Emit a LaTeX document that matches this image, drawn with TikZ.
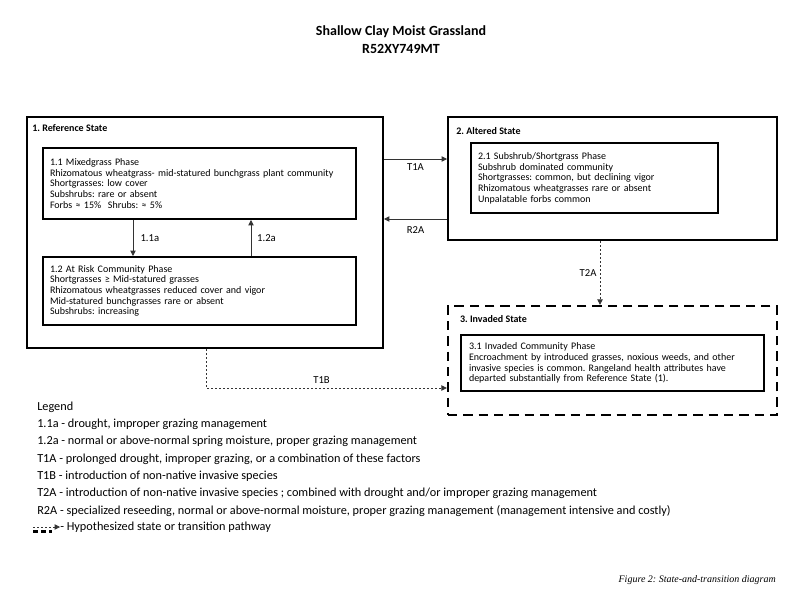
\documentclass[tikz,border=0pt]{standalone}
\usepackage{fontspec}
\setmainfont{Carlito}
\newfontfamily\captionfont{Liberation Serif}
\usetikzlibrary{arrows.meta, fit}

\begin{document}
\frenchspacing
\begin{tikzpicture} [
  x = 0.75pt,
  y = -0.75pt,
  statebox/.style = {draw, line width = 1.5pt, inner sep = 0pt},
  hypobox/.style = {statebox, line width = 1.8pt, dash pattern = on 7pt off 4.5pt},
  phasebox/.style = {draw, line width = 1.5pt, align = left, inner xsep = 5.25pt, inner ysep = 0pt,
    font = \fontsize{7.5}{8}\selectfont},
  statetitle/.style = {anchor = west, inner sep = 0pt, font = \fontsize{7.5}{8}\selectfont\bfseries},
  translabel/.style = {font = \fontsize{8}{9}\selectfont},
  trans/.style = {draw = black!80, line width = 0.6pt, -{Triangle[length = 4pt, width = 4pt]}},
  hypo/.style = {trans, dash pattern = on 1.5pt off 1.5pt},
]
\useasboundingbox (0, 0) rectangle (800, 600);

\node [align = center, font = \fontsize{10.5}{14}\selectfont\bfseries] (title) at (401, 39.5)
  {Shallow Clay Moist Grassland\\R52XY749MT};

% states
\node [statebox, fit = {(27, 117) (383, 348)}] (ref) {};
\node [statebox, fit = {(448, 117) (777, 240)}] (alt) {};
\node [hypobox, fit = {(448, 306) (777, 415)}] (inv) {};
\node [statetitle] (reft) at ([shift = {(6, 12)}]ref.north west) {1. Reference State};
\node [statetitle] (altt) at ([shift = {(9, 15)}]alt.north west) {2. Altered State};
\node [statetitle] (invt) at ([shift = {(13, 14)}]inv.north west) {3. Invaded State};

% phases
\node [phasebox, text width = 224.25pt, minimum height = 53.25pt] (p11) at (199.5, 183.5)
  {1.1 Mixedgrass Phase\\
   Rhizomatous wheatgrass- mid-statured bunchgrass plant community\\
   Shortgrasses: low cover\\
   Subshrubs: rare or absent\\
   Forbs ≈ 15\%\ \ Shrubs: ≈ 5\%};
\node [phasebox, text width = 224.25pt, minimum height = 51pt] (p12) at (199.5, 291)
  {1.2 At Risk Community Phase\\
   Shortgrasses ≥ Mid-statured grasses\\
   Rhizomatous wheatgrasses reduced cover and vigor\\
   Mid-statured bunchgrasses rare or absent\\
   Subshrubs: increasing};
\node [phasebox, text width = 174.75pt, minimum height = 52.5pt] (p21) at (594.5, 178)
  {2.1 Subshrub/Shortgrass Phase\\
   Subshrub dominated community\\
   Shortgrasses: common, but declining vigor\\
   Rhizomatous wheatgrasses rare or absent\\
   Unpalatable forbs common};
\node [phasebox, text width = 215.25pt, inner xsep = 6pt, minimum height = 42pt] (p31) at (612.5, 363)
  {3.1 Invaded Community Phase\\
   Encroachment by introduced grasses, noxious weeds, and other\\
   invasive species is common. Rangeland health attributes have\\
   departed substantially from Reference State (1).};

% transitions
\draw [trans] (p11.south -| 133, 0) -- (p12.north -| 133, 0)
  node [translabel, midway, right, xshift = 2pt] (l11a) {1.1a};
\draw [trans] (p12.north -| 251, 0) -- (p11.south -| 251, 0)
  node [translabel, midway, right, xshift = 1pt] (l12a) {1.2a};
\draw [trans] (ref.east |- 0, 159) -- (alt.west |- 0, 159)
  node [translabel, midway, below] (lt1a) {T1A};
\draw [trans] (alt.west |- 0, 219) -- (ref.east |- 0, 219)
  node [translabel, midway, below, yshift = -2pt] (lr2a) {R2A};
\draw [hypo] (alt.south -| 600, 0) -- (inv.north -| 600, 0)
  node [translabel, midway, left, xshift = 1pt] (lt2a) {T2A};
\draw [hypo] (ref.south -| 206, 0) |- (inv.west |- 0, 388)
  node [translabel, pos = 0.74, above] (lt1b) {T1B};

% legend
\node [anchor = north west, inner sep = 0pt, align = left, font = \fontsize{9.2}{13}\selectfont] (legend) at (37, 401.5)
  {Legend\\
   1.1a - drought, improper grazing management\\
   1.2a - normal or above-normal spring moisture, proper grazing management\\
   T1A - prolonged drought, improper grazing, or a combination of these factors\\
   T1B - introduction of non-native invasive species\\
   T2A - introduction of non-native invasive species ; combined with drought and/or improper grazing management\\
   R2A - specialized reseeding, normal or above-normal moisture, proper grazing management (management intensive and costly)};
\node [anchor = base west, inner sep = 0pt, font = \fontsize{9.2}{13}\selectfont] (hyp) at (60, 530.5)
  {- Hypothesized state or transition pathway};
\coordinate (sym) at (33, 527);
\draw [hypo] (sym) -- (hyp.west |- sym);
\draw [line width = 1.8pt, dash pattern = on 4pt off 2pt] ([yshift = -3.5pt]sym) -- ++(19, 0);

\node [anchor = base east, inner sep = 0pt, font = \fontsize{7.5}{9}\selectfont\captionfont\itshape] (caption) at (776, 582)
  {Figure 2: State-and-transition diagram};
\end{tikzpicture}
\end{document}
